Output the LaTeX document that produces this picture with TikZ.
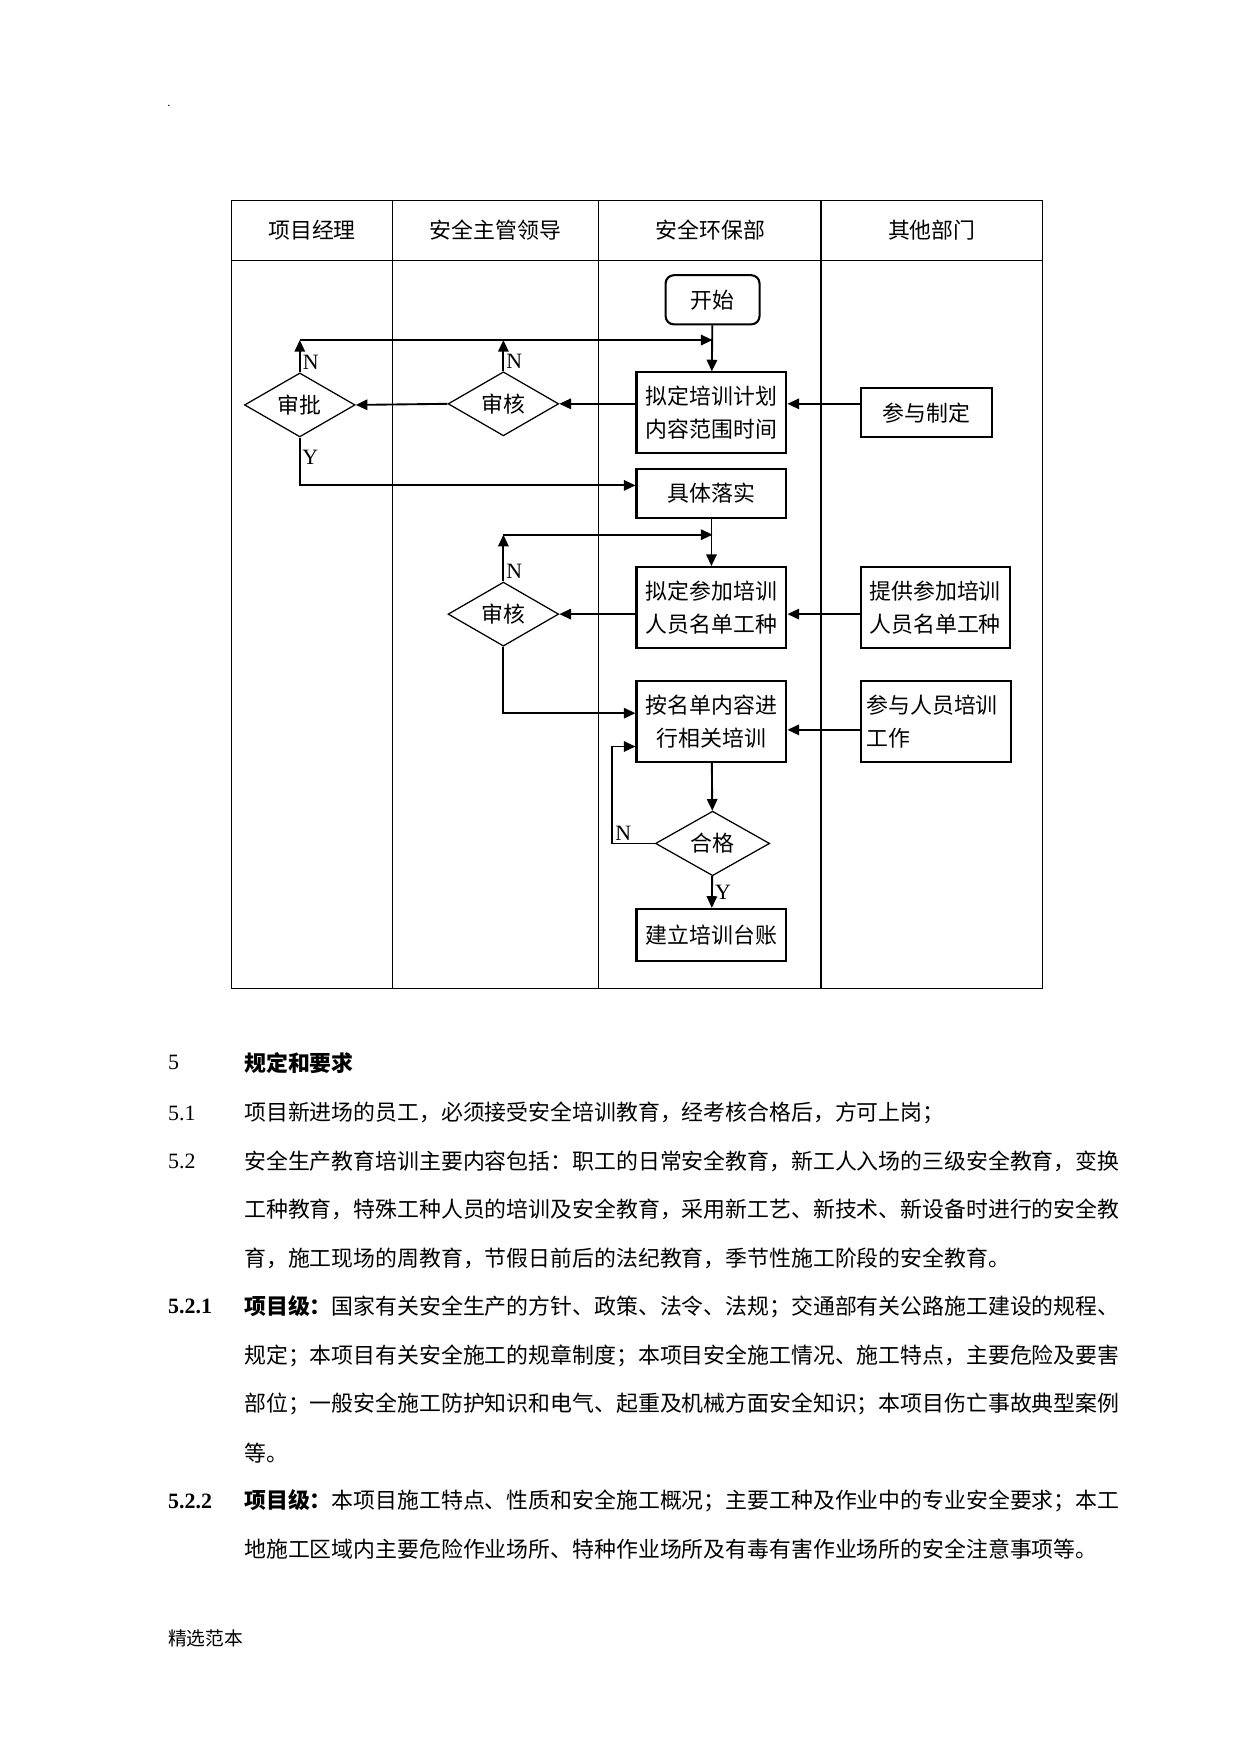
\documentclass[tikz,border=0pt]{standalone}
\usepackage{fontspec}
\setmainfont{Liberation Serif}
\newfontfamily\cjk{Noto Sans CJK SC}
\usetikzlibrary{positioning,shapes.geometric,arrows.meta}

\begin{document}
\begin{tikzpicture}[x=0.5368pt,y=-0.5368pt,
    box/.style={draw,line width=1pt,font=\cjk\fontsize{10.5}{16}\selectfont,align=center,minimum width=71.9pt,inner sep=2pt},
    check/.style={draw,diamond,line width=0.6pt,font=\cjk\fontsize{10.5}{12}\selectfont,minimum width=53.1pt,minimum height=30.6pt,inner sep=0pt},
    arr/.style={-{Triangle[length=5.6pt,width=5pt]},line width=0.9pt},
    lane/.style={line width=0.6pt},
    head/.style={font=\cjk\fontsize{10.5}{12}\selectfont},
    yn/.style={font=\fontsize{10.5}{12}\selectfont,inner sep=1pt},
    para/.style={font=\cjk\fontsize{10.5}{12}\selectfont,anchor=west,inner sep=0pt},
    num/.style={font=\fontsize{10.5}{12}\selectfont,anchor=west,inner sep=0pt}]

    \useasboundingbox (0,0) rectangle (1109,1568);
    \fill[white] (0,0) rectangle (1109,1568);
    \node[font=\fontsize{6}{6}\selectfont,inner sep=0pt] (dot) at (151,95) {.};

    % swimlanes
    \draw[lane] (207,179) rectangle (932,884);
    \draw[lane] (207,233) -- (932,233);
    \foreach \x in {351,535,734} \draw[lane] (\x,179) -- (\x,884);
    \node[head] (h1) at (279,206) {项目经理};
    \node[head] (h2) at (443,206) {安全主管领导};
    \node[head] (h3) at (635,206) {安全环保部};
    \node[head] (h4) at (833,206) {其他部门};

    % flow
    \node[draw,rounded corners=4pt,line width=1pt,font=\cjk\fontsize{10.5}{12}\selectfont,minimum width=45.1pt,minimum height=23.6pt] (start) at (637,268) {开始};
    \node[box,minimum height=38.7pt] (plan) at (636,369) {拟定培训计划\\内容范围时间};
    \node[box,minimum width=62.8pt,minimum height=23.6pt] (ref) at (828,369) {参与制定};
    \node[check] (chk1) at (450,361) {审核};
    \node[check] (appr) at (268,362) {审批};
    \node[box,minimum height=23.6pt] (do) at (636,441) {具体落实};
    \node[box,minimum height=38.7pt] (pick) at (636,543) {拟定参加培训\\人员名单工种};
    \node[box,minimum width=71.4pt,minimum height=38.7pt] (give) at (836,543) {提供参加培训\\人员名单工种};
    \node[check] (chk2) at (450,549) {审核};
    \node[box,minimum height=38.7pt] (train) at (636,645) {按名单内容进\\行相关培训};
    \node[box,align=left,text width=67pt,minimum height=38.7pt] (join) at (837,645) {参与人员培训\\工作};
    \node[check,minimum width=54.8pt,minimum height=31pt] (pass) at (637,754) {合格};
    \node[box,minimum height=25.2pt] (book) at (636,836) {建立培训台账};

    \coordinate (j1) at (637,304);
    \coordinate (j2) at (637,478);

    \draw[arr] (start) -- (plan);
    \draw[arr] (ref.west |- chk1) -- (plan.east |- chk1);
    \draw[arr] (plan.west |- chk1) -- (chk1.east);
    \draw[arr] (chk1.west) -- (appr.east);
    \draw[arr] (appr.north) -- (appr.north |- j1) node[yn,pos=0,anchor=south west] {N};
    \draw[arr] (appr.north |- j1) -- (j1);
    \draw[arr] (chk1.north) -- (chk1.north |- j1) node[yn,pos=0,anchor=south west] {N};
    \draw[arr] (appr.south) |- ([yshift=3.8pt]do.west);
    \node[yn,anchor=north west] (y1) at ([yshift=-5pt]appr.south) {Y};
    \draw[arr] (do) -- (pick);
    \draw[arr] (pick.west |- chk2) -- (chk2.east);
    \draw[arr] (give.west |- chk2) -- (pick.east |- chk2);
    \draw[arr] (chk2.north) -- (chk2.north |- j2) node[yn,pos=0,anchor=south west] {N};
    \draw[arr] (chk2.north |- j2) -- (j2);
    \draw[arr] (chk2.south) |- ([yshift=4pt]train.west);
    \draw[arr] ([yshift=-4pt]join.west) -- ([yshift=-4pt]train.east);
    \draw[arr] (train) -- (pass);
    \draw[arr] (pass.west) -- ++(-20.4pt,0) node[yn,anchor=south west] {N} |- ([yshift=-12pt]train.west);
    \draw[arr] (pass) -- (book) node[yn,midway,anchor=west] {Y};

    % text below
    \node[num] (n5) at (150,950) {5};
    \node[para,font=\cjk\bfseries\fontsize{10.5}{12}\selectfont] (t5) at (218,950) {规定和要求};
    \node[num] (n51) at (150,995) {5.1};
    \node[para] (t51) at (218,995) {项目新进场的员工，必须接受安全培训教育，经考核合格后，方可上岗；};
    \node[num] (n52) at (150,1038) {5.2};
    \node[para] (t52a) at (218,1038) {安全生产教育培训主要内容包括：职工的日常安全教育，新工人入场的三级安全教育，变换};
    \node[para] (t52b) at (218,1081) {工种教育，特殊工种人员的培训及安全教育，采用新工艺、新技术、新设备时进行的安全教};
    \node[para] (t52c) at (218,1125) {育，施工现场的周教育，节假日前后的法纪教育，季节性施工阶段的安全教育。};
    \node[num,font=\bfseries\fontsize{10.5}{12}\selectfont] (n521) at (150,1168) {5.2.1};
    \node[para] (t521a) at (218,1168) {{\bfseries 项目级：}国家有关安全生产的方针、政策、法令、法规；交通部有关公路施工建设的规程、};
    \node[para] (t521b) at (218,1212) {规定；本项目有关安全施工的规章制度；本项目安全施工情况、施工特点，主要危险及要害};
    \node[para] (t521c) at (218,1255) {部位；一般安全施工防护知识和电气、起重及机械方面安全知识；本项目伤亡事故典型案例};
    \node[para] (t521d) at (218,1299) {等。};
    \node[num,font=\bfseries\fontsize{10.5}{12}\selectfont] (n522) at (150,1342) {5.2.2};
    \node[para] (t522a) at (218,1342) {{\bfseries 项目级：}本项目施工特点、性质和安全施工概况；主要工种及作业中的专业安全要求；本工};
    \node[para] (t522b) at (218,1385) {地施工区域内主要危险作业场所、特种作业场所及有毒有害作业场所的安全注意事项等。};
    \node[para,font=\cjk\fontsize{9}{10}\selectfont] (foot) at (150,1465) {精选范本};
\end{tikzpicture}
\end{document}
